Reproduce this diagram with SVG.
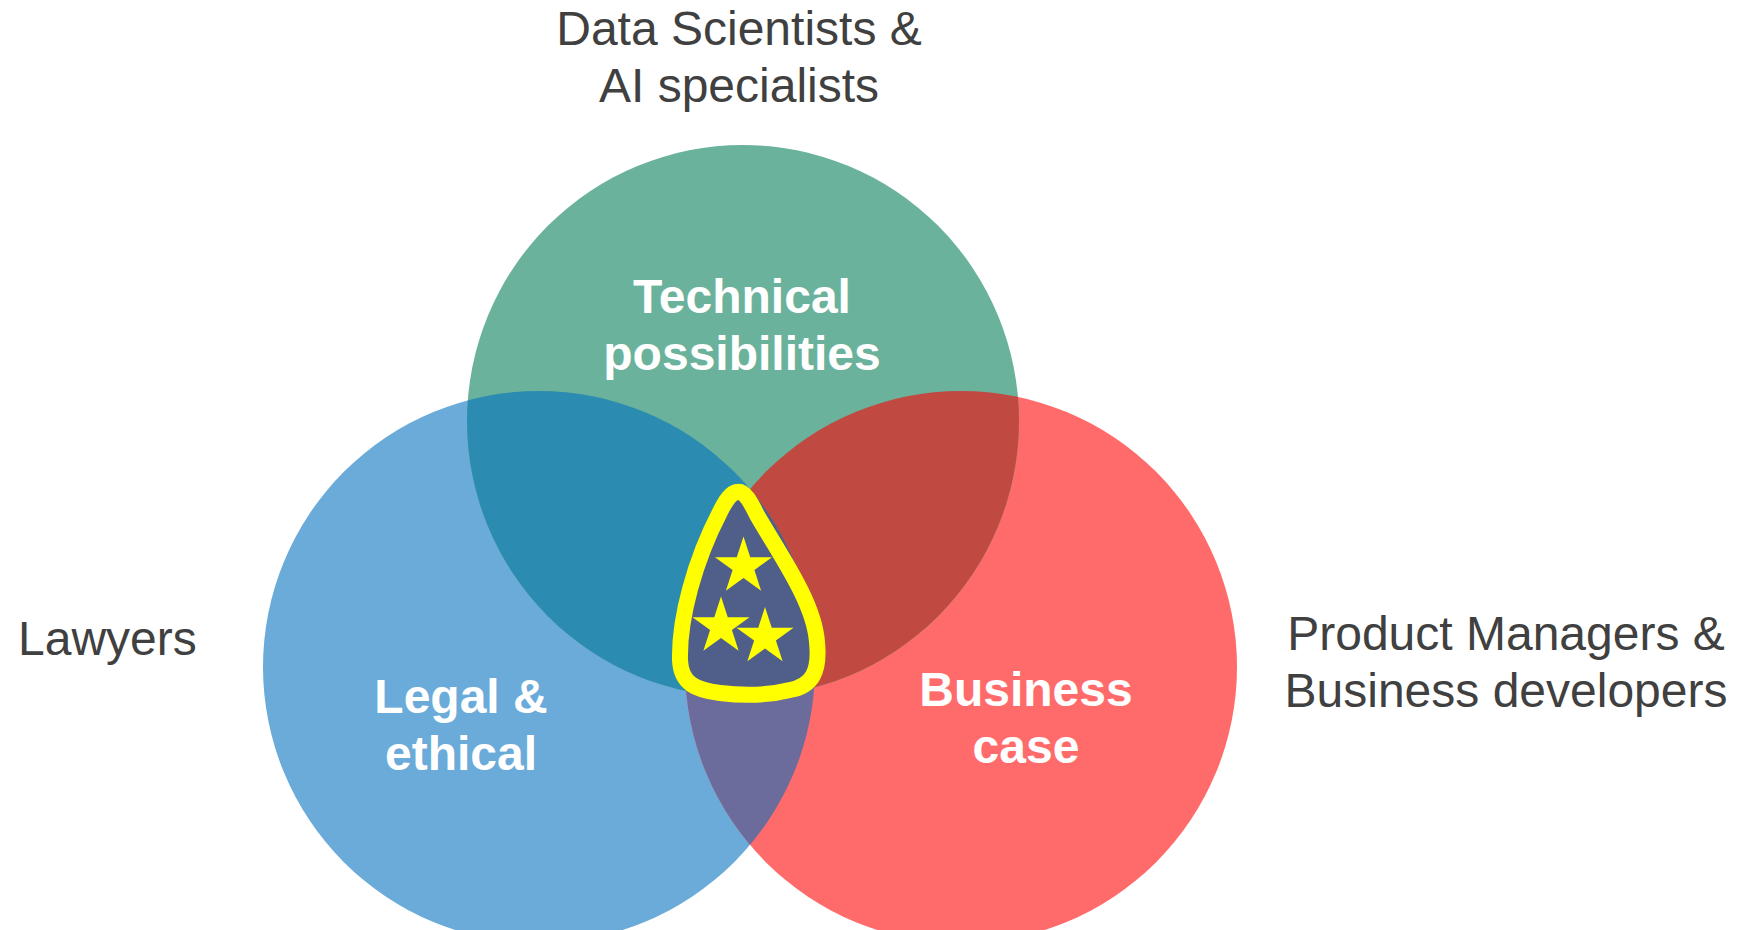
<svg xmlns="http://www.w3.org/2000/svg" xmlns:xlink="http://www.w3.org/1999/xlink" width="1742" height="930" viewBox="0 0 1742 930">
<style>
.lbl{font-family:"Liberation Sans",Arial,sans-serif;font-size:48px;fill:#404040;}
.in{font-family:"Liberation Sans",Arial,sans-serif;font-size:48px;font-weight:bold;fill:#ffffff;text-anchor:middle;}
.star{fill:#ffff00;}
</style>
<defs>
<clipPath id="cBlue"><circle cx="539" cy="667" r="276"/></clipPath>
<clipPath id="cRed"><circle cx="961" cy="667" r="276"/></clipPath>
<clipPath id="cGreen"><circle cx="743" cy="421" r="276"/></clipPath>
<path id="star" d="M0,-30 L6.74,-9.27 L28.53,-9.27 L10.9,3.54 L17.63,24.27 L0,11.46 L-17.63,24.27 L-10.9,3.54 L-28.53,-9.27 L-6.74,-9.27 Z"/>
</defs>
<rect width="1742" height="930" fill="#ffffff"/>
<g id="circle-legal">
<circle cx="539" cy="667" r="276" fill="#6BABD9"/>
</g>
<g id="circle-business">
<circle cx="961" cy="667" r="276" fill="#FF6B6B"/>
</g>
<g id="circle-technical">
<circle cx="743" cy="421" r="276" fill="#6AB29B"/>
</g>
<g id="overlaps">
<circle cx="743" cy="421" r="276" fill="#2C8BB0" clip-path="url(#cBlue)"/>
<circle cx="743" cy="421" r="276" fill="#C04A42" clip-path="url(#cRed)"/>
<circle cx="961" cy="667" r="276" fill="#6C6C9C" clip-path="url(#cBlue)"/>
<g clip-path="url(#cBlue)"><circle cx="743" cy="421" r="276" fill="#4F5F8A" clip-path="url(#cRed)"/></g>
</g>
<g id="sweet-spot">
<path d="M737,492 C745,490 752,505 757,515 C780,555 814,602 817,642 C820,672 812,686 790,690 C770,695 745,696 720,693 C696,690 681,684 680,660 C679,618 695,560 720,512 C726,500 731,493 737,492 Z" fill="#4F5F8A" stroke="#ffff00" stroke-width="16" stroke-linejoin="round"/>
<use xlink:href="#star" href="#star" class="star" x="743.5" y="566.5"/>
<use xlink:href="#star" href="#star" class="star" x="721" y="626.5"/>
<use xlink:href="#star" href="#star" class="star" x="765" y="637"/>
</g>
<g id="label-technical">
<text class="in" x="742" y="313">Technical</text>
<text class="in" x="742" y="370">possibilities</text>
</g>
<g id="label-legal">
<text class="in" x="461" y="713">Legal &amp;</text>
<text class="in" x="461" y="770">ethical</text>
</g>
<g id="label-business">
<text class="in" x="1026" y="706">Business</text>
<text class="in" x="1026" y="763">case</text>
</g>
<g id="label-datascientists">
<text class="lbl" x="739" y="45" text-anchor="middle">Data Scientists &amp;</text>
<text class="lbl" x="739" y="102" text-anchor="middle">AI specialists</text>
</g>
<g id="label-lawyers">
<text class="lbl" x="18" y="655">Lawyers</text>
</g>
<g id="label-product">
<text class="lbl" x="1506" y="650" text-anchor="middle">Product Managers &amp;</text>
<text class="lbl" x="1506" y="707" text-anchor="middle">Business developers</text>
</g>
<g id="connectors"></g>
</svg>
